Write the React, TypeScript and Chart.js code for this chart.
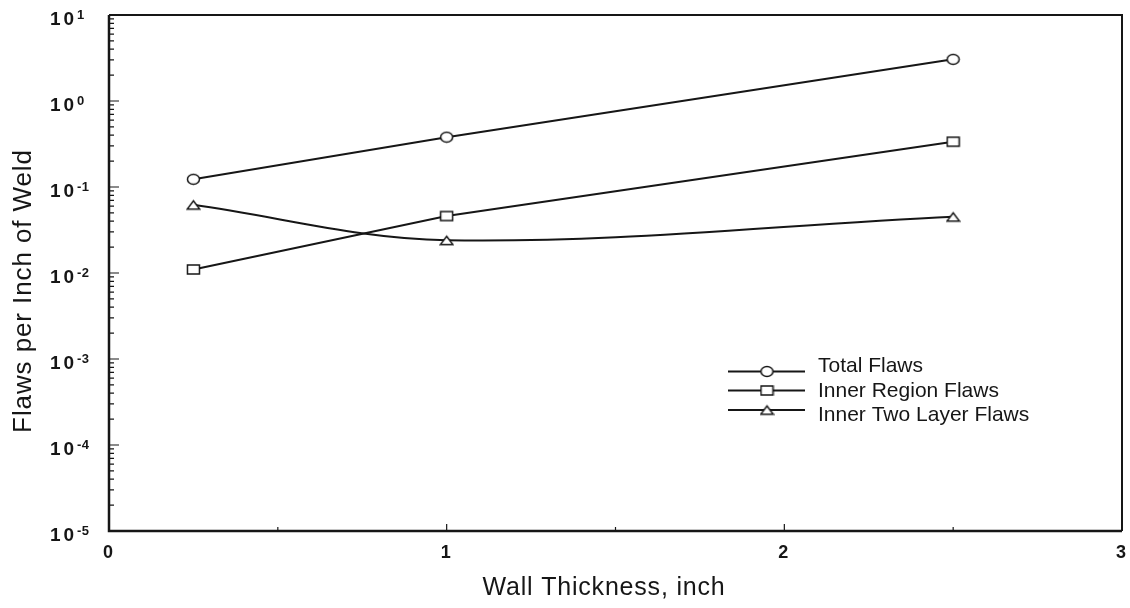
import React, { useEffect, useRef } from "react";
import { Chart, registerables } from "chart.js";

Chart.register(...registerables);

// Wall thickness (inch) at which flaw densities were evaluated
const thickness = [0.25, 1, 2.5];
// Flaws per inch of weld
const totalFlaws = [0.123, 0.38, 3.05];
const innerRegionFlaws = [0.011, 0.046, 0.336];
const innerTwoLayerFlaws = [0.062, 0.024, 0.045];

const seriesLabels = ["Total Flaws", "Inner Region Flaws", "Inner Two Layer Flaws"];

// Axis tick values
const yExponents = [-5, -4, -3, -2, -1, 0, 1];
const xTickValues = [0, 1, 2, 3];
const xMinorTicks = [0.5, 1.5, 2.5];

const INK = "#161616";
const FONT = "'Liberation Sans', Arial, Helvetica, sans-serif";

function makeMarker(kind: "circle" | "rect" | "triangle"): HTMLCanvasElement {
  const c = document.createElement("canvas");
  c.width = 15;
  c.height = 13;
  const g = c.getContext("2d")!;
  g.fillStyle = "#ffffff";
  g.strokeStyle = INK;
  g.lineWidth = 1.5;
  g.beginPath();
  if (kind === "circle") {
    g.ellipse(7.5, 6.5, 6, 5, 0, 0, Math.PI * 2);
  } else if (kind === "rect") {
    g.rect(1.5, 2, 12, 9);
  } else {
    g.moveTo(7.5, 2.5);
    g.lineTo(13.8, 10.8);
    g.lineTo(1.2, 10.8);
    g.closePath();
  }
  g.fill();
  g.stroke();
  return c;
}

const toPoints = (ys: number[]) => thickness.map((x, i) => ({ x, y: ys[i] }));

export default function App() {
  const canvasRef = useRef<HTMLCanvasElement | null>(null);

  useEffect(() => {
    const canvas = canvasRef.current;
    if (!canvas) return;

    const markers = [makeMarker("circle"), makeMarker("rect"), makeMarker("triangle")];

    const decor = {
      id: "weldDecor",
      afterDraw(chart: any) {
        const { ctx, chartArea: a } = chart;
        const xs = chart.scales.x;
        const ys = chart.scales.y;
        ctx.save();
        ctx.strokeStyle = INK;
        ctx.fillStyle = INK;

        // frame
        ctx.lineWidth = 2;
        ctx.beginPath();
        ctx.moveTo(a.left, a.top);
        ctx.lineTo(a.right, a.top);
        ctx.lineTo(a.right, a.bottom);
        ctx.stroke();
        ctx.lineWidth = 2.5;
        ctx.beginPath();
        ctx.moveTo(a.left, a.top);
        ctx.lineTo(a.left, a.bottom);
        ctx.lineTo(a.right, a.bottom);
        ctx.stroke();

        // y ticks (inward), decades plus minor log ticks
        ctx.lineWidth = 1.2;
        ctx.beginPath();
        yExponents.forEach((e) => {
          const py = ys.getPixelForValue(Math.pow(10, e));
          ctx.moveTo(a.left, py);
          ctx.lineTo(a.left + 10, py);
          if (e < yExponents[yExponents.length - 1]) {
            for (let m = 2; m <= 9; m++) {
              const pm = ys.getPixelForValue(m * Math.pow(10, e));
              ctx.moveTo(a.left, pm);
              ctx.lineTo(a.left + 5, pm);
            }
          }
        });
        // x ticks (upward)
        xTickValues.forEach((v) => {
          if (v === 0 || v === 3) return;
          const px = xs.getPixelForValue(v);
          ctx.moveTo(px, a.bottom);
          ctx.lineTo(px, a.bottom - 7);
        });
        xMinorTicks.forEach((v) => {
          const px = xs.getPixelForValue(v);
          ctx.moveTo(px, a.bottom);
          ctx.lineTo(px, a.bottom - 4);
        });
        ctx.stroke();

        // y tick labels: 10 with superscript exponent
        ctx.textBaseline = "middle";
        ctx.textAlign = "left";
        yExponents.forEach((e) => {
          const py = ys.getPixelForValue(Math.pow(10, e));
          ctx.font = `bold 19px ${FONT}`;
          (ctx as any).letterSpacing = "3px";
          ctx.fillText("10", a.left - 59, py + 5);
          (ctx as any).letterSpacing = "0.5px";
          ctx.font = `bold 13px ${FONT}`;
          ctx.fillText(String(e), a.left - 32, py);
        });
        (ctx as any).letterSpacing = "0px";

        // x tick labels
        ctx.font = `bold 18px ${FONT}`;
        ctx.textAlign = "center";
        xTickValues.forEach((v) => {
          ctx.fillText(String(v), xs.getPixelForValue(v) - 1, a.bottom + 22);
        });

        // axis titles
        ctx.font = `25px ${FONT}`;
        (ctx as any).letterSpacing = "0.8px";
        ctx.fillText("Wall Thickness, inch", 604, 588);
        ctx.save();
        ctx.translate(24, 291);
        ctx.rotate(-Math.PI / 2);
        ctx.font = `26px ${FONT}`;
        (ctx as any).letterSpacing = "0.9px";
        ctx.fillText("Flaws per Inch of Weld", 0, 0);
        ctx.restore();
        (ctx as any).letterSpacing = "0px";

        // legend
        const lineYs = [371.5, 390.5, 410];
        const textYs = [366, 391, 415];
        ctx.lineWidth = 2;
        ctx.font = `21px ${FONT}`;
        ctx.textAlign = "left";
        ctx.textBaseline = "middle";
        seriesLabels.forEach((label, i) => {
          ctx.beginPath();
          ctx.moveTo(728, lineYs[i]);
          ctx.lineTo(805, lineYs[i]);
          ctx.stroke();
          const mk = markers[i];
          ctx.drawImage(mk, 767 - mk.width / 2, lineYs[i] - mk.height / 2);
          ctx.fillText(label, 818, textYs[i]);
        });

        ctx.restore();
      },
    };

    const lineStyle = {
      borderColor: INK,
      borderWidth: 2,
      pointRadius: 6,
      pointHoverRadius: 6,
      fill: false,
    };

    const chart = new Chart(canvas, {
      type: "line",
      data: {
        datasets: [
          { ...lineStyle, label: seriesLabels[0], data: toPoints(totalFlaws), pointStyle: markers[0], tension: 0 },
          { ...lineStyle, label: seriesLabels[1], data: toPoints(innerRegionFlaws), pointStyle: markers[1], tension: 0 },
          { ...lineStyle, label: seriesLabels[2], data: toPoints(innerTwoLayerFlaws), pointStyle: markers[2], tension: 0.35 },
        ],
      },
      options: {
        animation: false,
        responsive: false,
        devicePixelRatio: 1,
        layout: { padding: { top: 15, right: 6, left: 0, bottom: 0 } },
        plugins: {
          legend: { display: false },
          tooltip: { enabled: false },
        },
        events: [],
        scales: {
          x: {
            type: "linear",
            min: 0,
            max: 3,
            grid: { display: false },
            border: { display: false },
            ticks: { display: false },
            afterFit: (s: any) => {
              s.height = 77;
            },
          },
          y: {
            type: "logarithmic",
            min: 1e-5,
            max: 10,
            grid: { display: false },
            border: { display: false },
            ticks: { display: false },
            afterFit: (s: any) => {
              s.width = 109;
            },
          },
        },
      },
      plugins: [decor],
    } as any);

    return () => chart.destroy();
  }, []);

  return (
    <div style={{ position: "fixed", left: 0, top: 0, width: 1130, height: 608, background: "#fff" }}>
      <canvas ref={canvasRef} width={1130} height={608} style={{ display: "block" }} />
    </div>
  );
}
